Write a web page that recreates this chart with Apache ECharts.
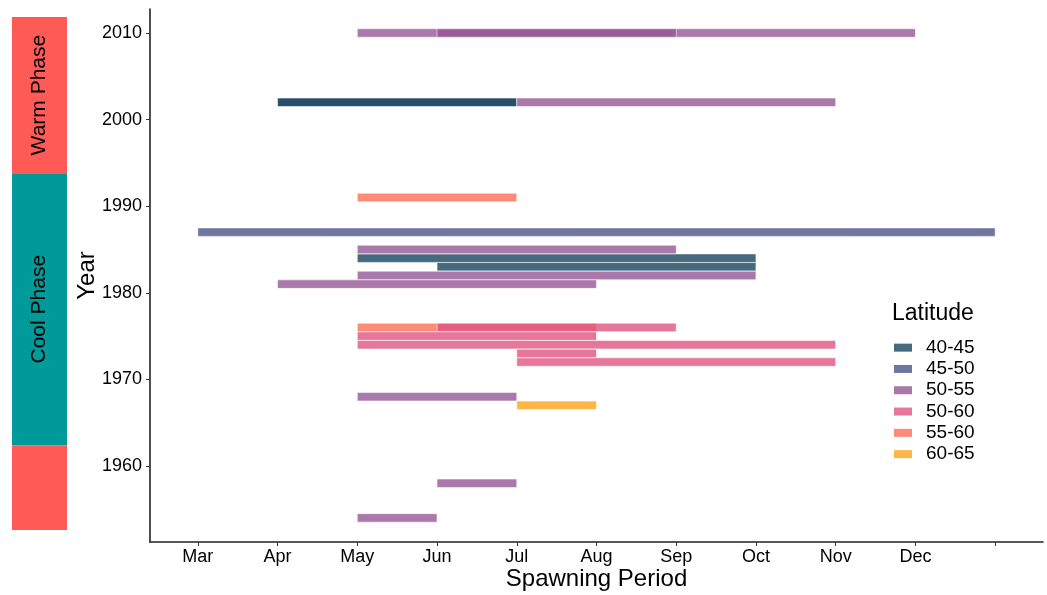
<!DOCTYPE html>
<html>
<head>
<meta charset="utf-8">
<script src="https://cdn.jsdelivr.net/npm/echarts@6/dist/echarts.min.js"></script>
<style>html,body{margin:0;padding:0;background:#fff;}#c{width:1047px;height:595px;}</style>
</head>
<body>
<div id="c"></div>
<script>
// ---- data ----
const monthLabels = ['Mar','Apr','May','Jun','Jul','Aug','Sep','Oct','Nov','Dec'];
const monthValues = [3,4,5,6,7,8,9,10,11,12];
const monthTicks = [3,4,5,6,7,8,9,10,11,12,13];
const yearTicks = [1960,1970,1980,1990,2000,2010];
const latitudeBands = ['40-45','45-50','50-55','50-60','55-60','60-65'];
// [start month, end month, year]
const lat40_45 = [[4,7,2002],[5,10,1984],[6,10,1983]];
const lat45_50 = [[4,7,2002],[3,13,1987]];
const lat50_55 = [[5,12,2010],[6,9,2010],[7,11,2002],[5,9,1985],[5,10,1982],[4,8,1981],[5,7,1968],[6,7,1958],[5,6,1954]];
const lat50_60 = [[6,9,1976],[5,8,1975],[5,11,1974],[7,8,1973],[7,11,1972]];
const lat55_60 = [[5,7,1991],[5,8,1976]];
const lat60_65 = [[7,8,1967]];
// PDO phases: [from year, to year, label]
const phaseFrom = [1993.8, 1962.4, 1952.6];
const phaseTo = [2011.85, 1993.8, 1962.4];
const phaseLabels = ['Warm Phase','Cool Phase',''];

const colors = {
  '40-45':'rgba(22,69,94,0.8)',
  '45-50':'rgba(75,84,136,0.8)',
  '50-55':'rgba(150,86,150,0.8)',
  '50-60':'rgba(223,85,130,0.8)',
  '55-60':'rgba(254,110,86,0.8)',
  '60-65':'rgba(254,165,25,0.8)'
};
const phaseColors = {'Warm Phase':'#fe5a56','Cool Phase':'#009a9a','':'#fe5a56'};
const FONT = "'Liberation Sans', Arial, sans-serif";
const Y_MIN = 1951.22, Y_MAX = 2012.77;

function barSeries(name, data){
  return {
    type:'custom', name:name, xAxisIndex:0, yAxisIndex:0,
    itemStyle:{color:colors[name]},
    encode:{x:[0,1], y:2},
    data:data,
    renderItem:function(params, api){
      const s = api.coord([api.value(0), api.value(2)+0.49]);
      const e = api.coord([api.value(1), api.value(2)-0.49]);
      return {type:'rect', shape:{x:s[0], y:s[1], width:e[0]-s[0], height:e[1]-s[1]},
        style:{fill:colors[name], stroke:'rgba(255,255,255,0.55)', lineWidth:1}};
    }
  };
}

const phaseData = phaseFrom.map((f,i)=>[f, phaseTo[i], phaseLabels[i]]);

const chart = echarts.init(document.getElementById('c'));
chart.setOption({
  animation:false,
  backgroundColor:'#fff',
  textStyle:{fontFamily:FONT},
  title:{text:'Latitude', left:892, top:302, padding:0,
    textStyle:{fontFamily:FONT, fontSize:23, fontWeight:'normal', color:'#000'}},
  legend:{
    data:latitudeBands, orient:'vertical', left:894, top:337, padding:0,
    icon:'rect', itemWidth:18, itemHeight:8, itemGap:0,
    textStyle:{fontFamily:FONT, fontSize:19, color:'#000', lineHeight:21.3, padding:[0,0,0,9]},
    selectedMode:false
  },
  grid:[
    {left:150, right:4, top:9, bottom:53, containLabel:false, outerBoundsMode:'none'},
    {left:12, width:55, top:9, bottom:53, containLabel:false, outerBoundsMode:'none'}
  ],
  xAxis:[
    {type:'value', gridIndex:0, min:2.4, max:13.6,
      name:'Spawning Period', nameLocation:'middle', nameGap:25, nameMoveOverlap:false,
      nameTextStyle:{fontFamily:FONT, fontSize:24, color:'#000'},
      axisLine:{show:true, onZero:false, lineStyle:{color:'#222', width:1.6}},
      axisTick:{show:true, length:4, customValues:monthTicks, lineStyle:{color:'#333'}},
      axisLabel:{customValues:monthValues, margin:6, fontFamily:FONT, fontSize:18, color:'#000',
        formatter:function(v){ return monthLabels[monthValues.indexOf(v)] || ''; }},
      splitLine:{show:false}
    },
    {type:'value', gridIndex:1, min:0, max:1, show:false}
  ],
  yAxis:[
    {type:'value', gridIndex:0, min:Y_MIN, max:Y_MAX,
      name:'Year', nameLocation:'middle', nameGap:51, nameMoveOverlap:false,
      nameTextStyle:{fontFamily:FONT, fontSize:24, color:'#000'},
      axisLine:{show:true, onZero:false, lineStyle:{color:'#222', width:1.6}},
      axisTick:{show:true, length:4, customValues:yearTicks, lineStyle:{color:'#333'}},
      axisLabel:{customValues:yearTicks, margin:8, fontFamily:FONT, fontSize:18, color:'#000',
        formatter:function(v){ return String(Math.round(v)); }},
      splitLine:{show:false}
    },
    {type:'value', gridIndex:1, min:Y_MIN, max:Y_MAX, show:false}
  ],
  series:[
    barSeries('45-50', lat45_50),
    barSeries('40-45', lat40_45),
    barSeries('50-55', lat50_55),
    barSeries('55-60', lat55_60),
    barSeries('50-60', lat50_60),
    barSeries('60-65', lat60_65),
    {
      type:'custom', name:'phase', xAxisIndex:1, yAxisIndex:1, data:phaseData,
      encode:{y:[0,1]}, silent:true,
      renderItem:function(params, api){
        const lab = phaseLabels[params.dataIndex];
        const p1 = api.coord([0, api.value(1)]);
        const p2 = api.coord([1, api.value(0)]);
        const cx = (p1[0]+p2[0])/2, cy = (p1[1]+p2[1])/2;
        return {type:'group', children:[
          {type:'rect', shape:{x:p1[0], y:p1[1], width:p2[0]-p1[0], height:p2[1]-p1[1]},
            style:{fill:phaseColors[lab]}},
          {type:'text', x:cx, y:cy, rotation:Math.PI/2,
            style:{text:lab, fill:'#000', fontFamily:FONT, fontSize:21, align:'center', verticalAlign:'middle'}}
        ]};
      }
    }
  ]
});
</script>
</body>
</html>
